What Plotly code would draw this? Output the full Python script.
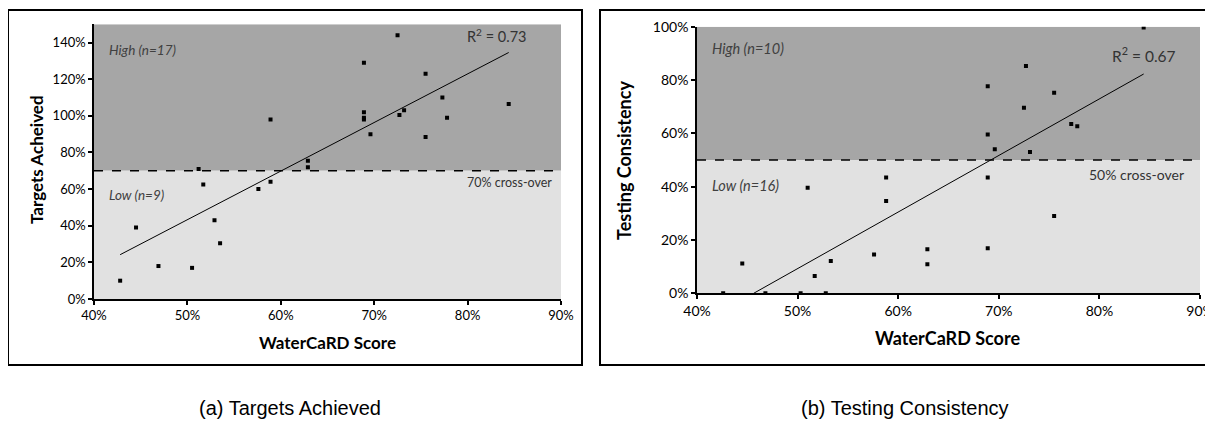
import numpy as np
import plotly.graph_objects as go

# ---- data ----
score_a = [42.8, 44.5, 46.9, 50.5, 51.2, 51.7, 52.9, 53.5, 57.6, 58.9, 58.9,
           62.9, 62.9, 68.9, 68.9, 68.9, 68.9, 69.6, 72.5, 72.7, 73.2,
           75.5, 75.5, 77.3, 77.8, 84.4]
targets = [10, 39, 18, 17, 71, 62.5, 43, 30.5, 60, 64, 98,
           75.5, 72, 129, 102, 98, 99, 90, 144, 100.5, 103,
           123, 88.5, 110, 99, 106.5]

score_b = [42.6, 44.5, 46.8, 50.3, 51.0, 51.7, 52.8, 53.3, 57.6, 58.8, 58.8,
           62.9, 62.9, 68.9, 68.9, 68.9, 68.9, 69.6, 72.5, 72.7, 73.1,
           75.5, 75.5, 77.2, 77.8, 84.4]
testing = [0, 11.2, 0, 0, 39.6, 6.5, 0, 12.1, 14.6, 43.4, 34.6,
           16.5, 10.9, 43.4, 16.9, 77.7, 59.6, 54, 69.6, 85.3, 53,
           29, 75.2, 63.5, 62.7, 99.7]

x_ticks = [40, 50, 60, 70, 80, 90]
ya_ticks = [0, 20, 40, 60, 80, 100, 120, 140]
yb_ticks = [0, 20, 40, 60, 80, 100]
thr_a, thr_b = 70, 50
r2_a, r2_b = "0.73", "0.67"
n_a = (9, 17)
n_b = (16, 10)

W, H = 1213, 434
OFF = 8  # page body margin
def px(x):
    return (x - OFF) / W
def py(y):
    return 1 - (y - OFF) / H

DARK = "#a6a6a6"
LIGHT = "#e1e1e1"
FONT = "Lato, 'Open Sans', sans-serif"

def pct(vals):
    return [f"{v}%" for v in vals]

fig = go.Figure()

def trend(xs, ys, ymin):
    xs = np.array(xs); ys = np.array(ys)
    m, b = np.polyfit(xs, ys, 1)
    x0, x1 = xs.min(), xs.max()
    if m * x0 + b < ymin:
        x0 = (ymin - b) / m
    return [x0, x1], [m * x0 + b, m * x1 + b]

# panel A
fig.add_trace(go.Scatter(x=score_a, y=targets, mode="markers", xaxis="x", yaxis="y",
                         marker=dict(symbol="square", size=4, color="black"), showlegend=False))
tx, ty = trend(score_a, targets, 0)
fig.add_trace(go.Scatter(x=tx, y=ty, mode="lines", xaxis="x", yaxis="y",
                         line=dict(color="black", width=1), showlegend=False))
# panel B
fig.add_trace(go.Scatter(x=score_b, y=testing, mode="markers", xaxis="x2", yaxis="y2",
                         marker=dict(symbol="square", size=4, color="black"), showlegend=False))
tx, ty = trend(score_b, testing, 0)
fig.add_trace(go.Scatter(x=tx, y=ty, mode="lines", xaxis="x2", yaxis="y2",
                         line=dict(color="black", width=1), showlegend=False))

shapes = []
for xr, yr, thr, top in [("x", "y", thr_a, 150), ("x2", "y2", thr_b, 100)]:
    shapes.append(dict(type="rect", xref=xr, yref=yr, x0=40, x1=90, y0=thr, y1=top,
                       fillcolor=DARK, line=dict(width=0), layer="below"))
    shapes.append(dict(type="rect", xref=xr, yref=yr, x0=40, x1=90, y0=0, y1=thr,
                       fillcolor=LIGHT, line=dict(width=0), layer="below"))
    shapes.append(dict(type="line", xref=xr, yref=yr, x0=40, x1=90, y0=thr, y1=thr,
                       line=dict(color="black", width=1.5, dash="dash")))
# frames
shapes.append(dict(type="rect", xref="paper", yref="paper", x0=px(8), x1=px(582),
                   y0=py(365), y1=py(10), line=dict(color="black", width=2)))
shapes.append(dict(type="rect", xref="paper", yref="paper", x0=px(600), x1=px(1235),
                   y0=py(365), y1=py(10), line=dict(color="black", width=2)))

ann = []
def A(text, x, y, xref, yref, size, xanchor="center", yanchor="middle", color="black",
      angle=0, font=FONT):
    ann.append(dict(text=text, x=x, y=y, xref=xref, yref=yref, showarrow=False,
                    xanchor=xanchor, yanchor=yanchor, textangle=angle,
                    font=dict(family=font, size=size, color=color)))

A(f"<i>High (n={n_a[1]})</i>", 41.4, 136, "x", "y", 13.5, "left", color="#404040")
A(f"<i>Low (n={n_a[0]})</i>", 41.4, 57, "x", "y", 13.5, "left", color="#404040")
A(f"R<sup>2</sup> = {r2_a}", 86.5, 144, "x", "y", 14.5, "right", color="#333333")
A(f"{thr_a}% cross-over", 89.2, 63.5, "x", "y", 12.5, "right", color="#333333")
A(f"<i>High (n={n_b[1]})</i>", 41.3, 92, "x2", "y2", 14.5, "left", color="#404040")
A(f"<i>Low (n={n_b[0]})</i>", 41.3, 40.3, "x2", "y2", 14.5, "left", color="#404040")
A(f"R<sup>2</sup> = {r2_b}", 87.8, 89.4, "x2", "y2", 15.5, "right", color="#333333")
A(f"{thr_b}% cross-over", 88.6, 44.7, "x2", "y2", 14, "right", color="#333333")

A("<b>WaterCaRD Score</b>", px(327), py(342), "paper", "paper", 17)
A("<b>WaterCaRD Score</b>", px(948), py(338), "paper", "paper", 18)
A("<b>Targets Acheived</b>", px(36), py(160), "paper", "paper", 17, angle=-90)
A("<b>Testing Consistency</b>", px(624), py(161), "paper", "paper", 18, angle=-90)

A("(a) Targets Achieved", px(290), py(408), "paper", "paper", 20, font="'Liberation Sans', Arial, sans-serif")
A("(b) Testing Consistency", px(905), py(408), "paper", "paper", 20, font="'Liberation Sans', Arial, sans-serif")

axis_common = dict(showgrid=False, zeroline=False, showline=True, linecolor="black",
                   linewidth=1.5, ticks="outside", ticklen=4, tickcolor="black",
                   tickwidth=1.5, fixedrange=True, automargin=False)

fig.update_layout(
    template="none",
    width=W, height=H, autosize=False,
    margin=dict(l=0, r=0, t=0, b=0, pad=0, autoexpand=False),
    paper_bgcolor="white", plot_bgcolor="rgba(0,0,0,0)",
    showlegend=False,
    xaxis=dict(domain=[px(94), px(561)], range=[40, 90], tickvals=x_ticks, ticktext=pct(x_ticks),
               anchor="y", tickfont=dict(family=FONT, size=13, color="black"), **axis_common),
    yaxis=dict(domain=[py(299), py(24.3)], range=[0, 150], tickvals=ya_ticks, ticktext=pct(ya_ticks),
               anchor="x", tickfont=dict(family=FONT, size=13, color="black"), **axis_common),
    xaxis2=dict(domain=[px(697), px(1200)], range=[40, 90], tickvals=x_ticks, ticktext=pct(x_ticks),
                anchor="y2", tickfont=dict(family=FONT, size=14, color="black"), **axis_common),
    yaxis2=dict(domain=[py(293.3), py(26.7)], range=[0, 100], tickvals=yb_ticks, ticktext=pct(yb_ticks),
                anchor="x2", tickfont=dict(family=FONT, size=14, color="black"), **axis_common),
    shapes=shapes, annotations=ann,
)

fig.write_html("out.html")
